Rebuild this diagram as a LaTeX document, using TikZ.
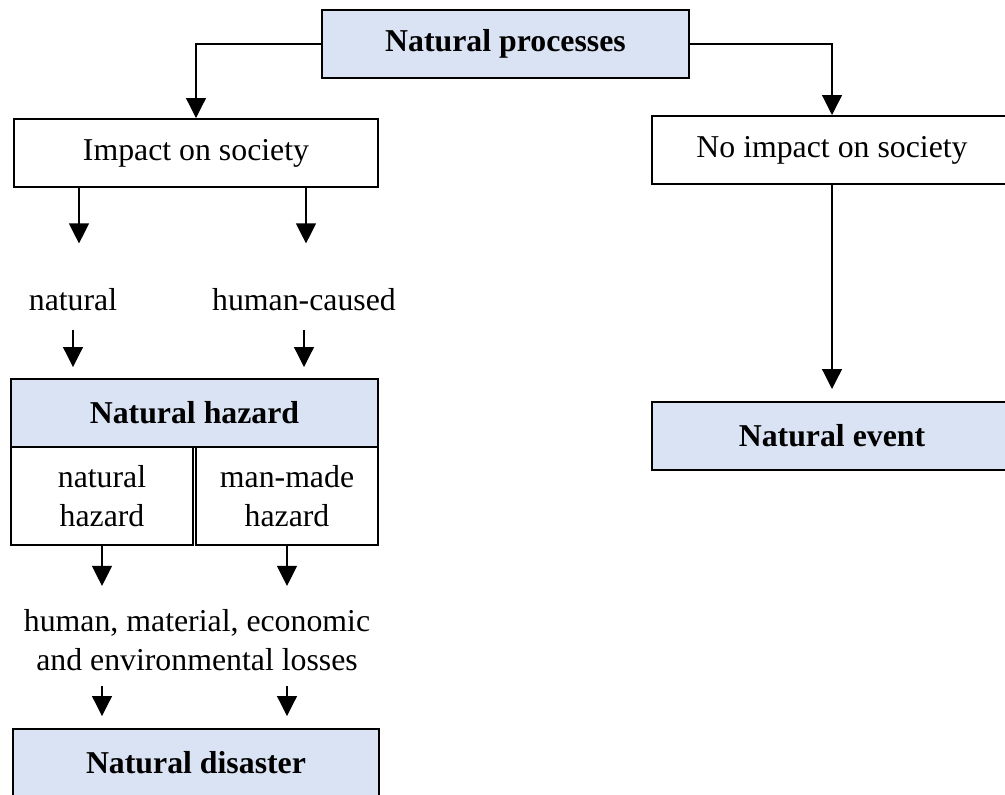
\documentclass[tikz,border=0pt]{standalone}
\usepackage{fontspec}
\setmainfont{Liberation Serif}
\usetikzlibrary{arrows.meta}
\definecolor{boxfill}{HTML}{DAE3F3}

\begin{document}
\begin{tikzpicture}[x=0.5pt,y=-0.5pt,>={Triangle[length=10pt,width=10pt]},
  every node/.style={font=\fontsize{15.9}{19.5}\selectfont},
  bluebox/.style={draw,line width=1pt,fill=boxfill,font=\fontsize{15.9}{19.5}\selectfont\bfseries,minimum height=34pt,inner sep=0pt},
  plainbox/.style={draw,line width=1pt,minimum height=34pt,inner sep=0pt,align=center},
  lbl/.style={inner sep=0pt,align=center},
  conn/.style={line width=0.6pt}]
\useasboundingbox (0,0) rectangle (1005,794);
\node[bluebox,minimum width=183.5pt] (proc) at (505.5,44) {Natural processes};
\node[plainbox,minimum width=182pt] (impact) at (196,153) {Impact on society};
\node[plainbox,minimum width=180pt] (noimpact) at (832,150) {No impact on society};
\node[bluebox,minimum width=180pt] (event) at (832,436) {Natural event};
\node[lbl] (natural) at (73,300) {natural};
\node[lbl] (humcaused) at (304,300) {human-caused};
\node[bluebox,minimum width=183.5pt] (hazard) at (194.5,413) {Natural hazard};
\node[plainbox,minimum width=91pt,minimum height=49pt] (nathaz) at (102,496) {natural\\hazard};
\node[plainbox,minimum width=91pt,minimum height=49pt] (manhaz) at (287,496) {man-made\\hazard};
\node[lbl] (losses) at (197,640) {human, material, economic\\and environmental losses};
\node[bluebox,minimum width=183pt] (disaster) at (196,763) {Natural disaster};
\draw[->,conn] (proc.west) -| (impact.north);
\draw[->,conn] (proc.east) -| (noimpact.north);
\draw[->,conn,shorten >=6pt] (noimpact) -- (event);
\draw[->,conn,shorten >=22.5pt] ([xshift=3pt]natural.north |- impact.south) -- ([xshift=3pt]natural.north);
\draw[->,conn,shorten >=22.5pt] ([xshift=1pt]humcaused.north |- impact.south) -- ([xshift=1pt]humcaused.north);
\draw[->,conn,shorten <=9pt,shorten >=5.5pt] (natural.south) -- (natural.south |- hazard.north);
\draw[->,conn,shorten <=9pt,shorten >=5.5pt] (humcaused.south) -- (humcaused.south |- hazard.north);
\draw[->,conn,shorten >=11.5pt] (nathaz.south) -- (nathaz.south |- losses.north);
\draw[->,conn,shorten >=11.5pt] (manhaz.south) -- (manhaz.south |- losses.north);
\draw[->,conn,shorten <=7.5pt,shorten >=6pt] (losses.south -| nathaz) -- (disaster.north -| nathaz);
\draw[->,conn,shorten <=7.5pt,shorten >=6pt] (losses.south -| manhaz) -- (disaster.north -| manhaz);
\end{tikzpicture}
\end{document}
